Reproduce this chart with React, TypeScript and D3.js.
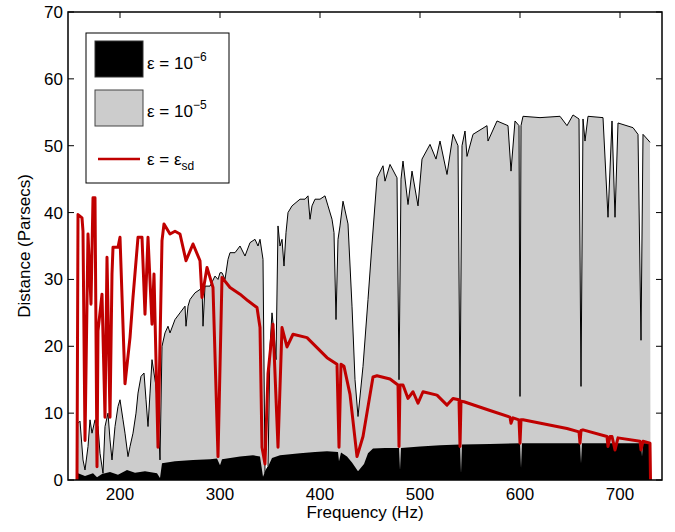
import React from "react";
import * as d3 from "d3";

// [frequency Hz, distance pc]
const epsLow: [number, number][] = [
  [158, 0], [158, 1.0], [165, 0.6], [173, 1.0], [177, 0.4], [182, 0.9], [190, 1.2], [198, 0.8], [207, 1.5],
  [215, 1.1], [225, 1.3], [237, 1.0], [240, 0.3], [242, 2.5], [255, 2.8], [273, 3], [290, 3.1], [297, 3.2],
  [300, 2.2], [302, 3.1], [320, 3.5], [333, 3.7], [340, 3.5], [343, 0.5], [346, 1.6], [348, 2], [352, 3.3],
  [360, 3.7], [380, 4.0], [395, 4.2], [407, 4.3], [418, 4.2], [419, 2.8], [421, 4.1], [427, 3.5],
  [432, 2.6], [438, 1.3], [444, 2.4], [448, 4.0], [453, 4.7], [465, 4.8], [479, 4.8], [480, 1.5], [481, 4.8],
  [500, 5.0], [520, 5.2], [540, 5.3], [541, 1.0], [542, 5.3], [570, 5.4], [600, 5.5], [601, 1.8], [602, 5.5],
  [630, 5.5], [660, 5.5], [661, 2.5], [662, 5.5], [690, 5.5], [700, 5.5], [721, 5.5], [722, 3.5], [723, 5.5],
  [730, 5.5], [730.5, 0],
];

const epsHigh: [number, number][] = [
  [158, 0], [158, 8.5], [160, 8.8], [163, 3], [165, 1.5], [168, 5], [170, 9], [172, 7], [175, 9], [178, 8],
  [180, 4], [183, 1], [185, 8], [188, 10], [190, 6], [192, 3], [195, 8], [198, 11], [200, 12], [203, 9],
  [205, 7], [208, 3.5], [210, 5], [213, 7], [216, 10], [218, 13], [221, 15.5], [224, 16], [226, 12], [228, 8],
  [230, 13], [232, 18], [234, 16], [236, 14], [238, 10], [240, 3], [242, 20], [245, 22], [248, 23], [250, 22],
  [255, 24], [260, 25], [265, 26], [266, 23], [268, 26], [270, 27], [275, 28], [280, 28.5], [282, 29],
  [283, 23], [285, 29], [290, 29], [295, 30.5], [298, 30], [300, 31], [302, 31], [305, 30], [308, 33],
  [310, 34], [315, 34], [320, 35], [325, 33.5], [330, 35.5], [335, 36], [338, 35], [340, 36], [343, 33],
  [345, 1], [348, 2], [350, 20], [352, 25], [354, 22], [356, 18], [358, 38], [360, 35], [362, 36], [364, 32],
  [366, 37], [368, 40], [372, 41], [380, 42], [385, 42], [388, 42.5], [390, 39], [392, 41], [395, 42],
  [400, 42], [405, 42.5], [408, 41], [412, 39], [414, 37], [416, 24], [418, 36], [420, 38], [423, 41.7],
  [428, 38.3], [432, 26], [435, 15], [438, 9.5], [443, 17], [448, 27], [452, 35.3], [457, 45.2], [463, 47],
  [465, 44.7], [470, 47.2], [477, 45.2], [479, 15], [481, 45], [483, 47.7], [488, 41.2], [492, 46.2],
  [498, 41], [502, 48], [510, 50.2], [516, 48], [520, 50.7], [527, 45.7], [533, 51.7], [538, 50],
  [540, 11.5], [542, 50], [545, 52.2], [547, 48.4], [553, 51.7], [567, 53], [568, 50.7], [577, 53.7],
  [588, 53], [591, 46.2], [595, 53.7], [599, 53], [600, 12.5], [601, 53], [603, 54.4], [620, 54.2],
  [640, 54.4], [647, 53], [653, 54.6], [659, 54], [661, 14], [663, 54], [665, 50.7], [668, 54.4],
  [683, 54.2], [688, 39.3], [692, 53.7], [695, 39.3], [698, 53.4], [713, 52.7], [718, 51.7], [721, 20.9],
  [723, 51.7], [729, 50.7], [730, 50.5], [730.5, 0],
];

const epsSd: [number, number][] = [
  [157, 0], [158, 39.7], [162, 39.2], [163, 37.2], [165, 5.9], [168, 36.8], [171, 26.3], [173, 42.2],
  [175, 42.2], [177, 2], [178, 22.3], [182, 27.8], [185, 9.4], [187, 33.3], [190, 9.4], [192, 30.8],
  [193, 34.8], [198, 34.8], [200, 36.3], [205, 14.4], [210, 21.3], [213, 27.3], [218, 36.3], [222, 36.3],
  [225, 24.8], [228, 36.3], [232, 23.3], [234, 30.8], [238, 4.9], [242, 35.8], [244, 38.3], [250, 36.8],
  [255, 37.2], [260, 36.8], [266, 32.8], [273, 35.3], [280, 32.8], [282, 27.3], [287, 31.8], [293, 28.8],
  [298, 3.5], [302, 30.3], [310, 28.8], [320, 27.8], [328, 26.8], [337, 25.8], [340, 22.8], [342, 4.9],
  [345, 2.4], [348, 15.9], [353, 23.3], [358, 4.9], [362, 22.8], [367, 19.9], [373, 21.8], [387, 21.3],
  [407, 18.3], [417, 17.3], [419, 4.9], [421, 17.3], [424, 17], [430, 12.8], [437, 3.5], [443, 6.5],
  [453, 15.4], [457, 15.6], [470, 15.1], [478, 14.2], [479, 5], [480, 14.2], [483, 14.2], [488, 12.2],
  [493, 13.2], [498, 11.5], [503, 13.2], [517, 12.7], [527, 11.2], [533, 12.2], [539, 12], [540, 5],
  [541, 11.8], [544, 11.7], [570, 10.4], [590, 9.4], [591, 8.5], [593, 9.3], [599, 9], [600, 5.5],
  [601, 9], [603, 9], [647, 7.7], [659, 7.2], [660, 5.5], [661, 7.4], [663, 7.5], [687, 6.5], [688, 5],
  [690, 6.5], [692, 6.5], [695, 4.5], [698, 6.3], [720, 5.8], [721, 4.5], [723, 5.8], [730, 5.5], [730.5, 0],
];

const xTicks = [200, 300, 400, 500, 600, 700];
const yTicks = [0, 10, 20, 30, 40, 50, 60, 70];

const W = 675, H = 532;
const m = { left: 68, right: 13, top: 12, bottom: 52 };
const font = "'Liberation Sans', Arial, sans-serif";

export default function App() {
  const x = d3.scaleLinear().domain([148, 742]).range([m.left, W - m.right]);
  const y = d3.scaleLinear().domain([0, 70]).range([H - m.bottom, m.top]);
  const area = d3.area<[number, number]>().x(d => x(d[0])).y0(y(0)).y1(d => y(d[1]));
  const line = d3.line<[number, number]>().x(d => x(d[0])).y(d => y(d[1]));
  const x0 = m.left, x1 = W - m.right, y0 = H - m.bottom, y1 = m.top;

  return (
    <svg width={W} height={H} style={{ position: "absolute", left: 0, top: 0, fontFamily: font }}>
      <rect width={W} height={H} fill="#fff" />
      <path d={area(epsHigh)!} fill="#cccccc" />
      <path d={line(epsHigh.slice(1, -1))!} fill="none" stroke="#000" strokeWidth={1} />
      <path d={area(epsLow)!} fill="#000" />
      <path d={line(epsSd)!} fill="none" stroke="#c00000" strokeWidth={3} strokeLinejoin="round" />
      <rect x={x0} y={y1} width={x1 - x0} height={y0 - y1} fill="none" stroke="#000" strokeWidth={1.5} />
      {xTicks.map(t => (
        <g key={t}>
          <line x1={x(t)} x2={x(t)} y1={y0} y2={y0 - 6} stroke="#000" />
          <line x1={x(t)} x2={x(t)} y1={y1} y2={y1 + 6} stroke="#000" />
          <text x={x(t)} y={y0 + 20} textAnchor="middle" fontSize={17}>{t}</text>
        </g>
      ))}
      {yTicks.map(t => (
        <g key={t}>
          <line x1={x0} x2={x0 + 6} y1={y(t)} y2={y(t)} stroke="#000" />
          <line x1={x1} x2={x1 - 6} y1={y(t)} y2={y(t)} stroke="#000" />
          <text x={x0 - 5} y={y(t) + 6} textAnchor="end" fontSize={17}>{t}</text>
        </g>
      ))}
      <text x={(x0 + x1) / 2} y={H - 14} textAnchor="middle" fontSize={17}>Frequency (Hz)</text>
      <text transform={`translate(30,${(y0 + y1) / 2}) rotate(-90)`} textAnchor="middle" fontSize={17}>Distance (Parsecs)</text>
      <g>
        <rect x={86} y={33} width={143} height={150} fill="#fff" stroke="#000" strokeWidth={1} />
        <rect x={95} y={41} width={48} height={36} fill="#000" stroke="#333" />
        <rect x={95} y={90} width={48} height={36} fill="#cccccc" stroke="#444" />
        <line x1={98} x2={140} y1={159} y2={159} stroke="#c00000" strokeWidth={2.5} />
        <text x={147} y={69} fontSize={17}>ε = 10<tspan dy={-8} fontSize={12}>−6</tspan></text>
        <text x={147} y={117} fontSize={17}>ε = 10<tspan dy={-8} fontSize={12}>−5</tspan></text>
        <text x={147} y={165} fontSize={17}>ε = ε<tspan dy={5} fontSize={12}>sd</tspan></text>
      </g>
    </svg>
  );
}
